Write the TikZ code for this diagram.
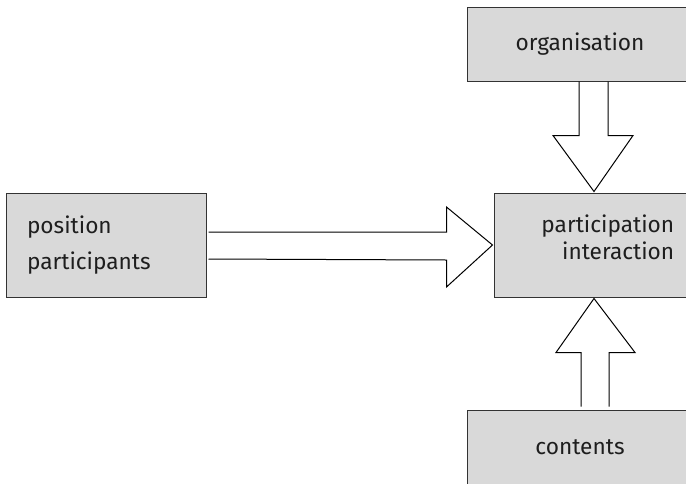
\documentclass[tikz,border=0pt]{standalone}
\usepackage{fontspec}
\setmainfont{Fira Sans}
\usetikzlibrary{positioning,calc}
\definecolor{boxgray}{HTML}{D9D9D9}
\definecolor{edge}{HTML}{333333}
\definecolor{txt}{HTML}{1E1E1E}

\begin{document}
\begin{tikzpicture}[x=0.75pt,y=-0.75pt,
  font=\fontsize{17}{27}\selectfont,
  box/.style={draw=edge,fill=boxgray,line width=0.75pt,text=txt,inner ysep=0pt,minimum height=#1},
  box/.default=55.5pt,
  fat/.style={draw=black,line width=0.75pt,line join=miter}]
\useasboundingbox (0,0) rectangle (686,483);
\clip (0,0) rectangle (686,483);
% the four boxes
\node[box=78pt,minimum width=150pt,text width=118.5pt,inner xsep=15.75pt,align=left] (pos) at (106,245) {position\\participants};
\node[box=78pt,minimum width=150pt] (mid) at (594,245) {};
\node[anchor=east,align=right,inner sep=0pt,text=txt,font=\fontsize{17}{20}\selectfont] (midtxt) at ($(mid.east)+(-20,-8)$) {participation\\interaction};
\node[box,minimum width=169.5pt] (org) at (580,44) {organisation};
\node[box,minimum width=169.5pt] (con) at (580,447) {contents};
% block arrow from the left
\draw[fat] ($(pos.east)+(2,-13)$) -- ($(mid.west)+(-47,-13)$) -- ++(0,-25)
  -- ($(mid.west)+(-1,0)$) -- ++(-46,42) -- ++(0,-27) -- ($(pos.east)+(2,14)$);
% block arrow from the top
\draw[fat] ($(org.south -| mid.north)+(-15,0)$) -- ($(mid.north)+(-15,-57)$) -- ++(-26,0)
  -- ($(mid.north)+(0,-1)$) -- ++(39,-56) -- ++(-25,0) -- ($(org.south -| mid.north)+(14,0)$);
% block arrow from the bottom
\draw[fat] ($(con.north -| mid.south)+(-13,-3)$) -- ($(mid.south)+(-13,55)$) -- ++(-25,0)
  -- ($(mid.south)+(0,1)$) -- ++(41,54) -- ++(-26,0) -- ($(con.north -| mid.south)+(15,-3)$);
\end{tikzpicture}
\end{document}
